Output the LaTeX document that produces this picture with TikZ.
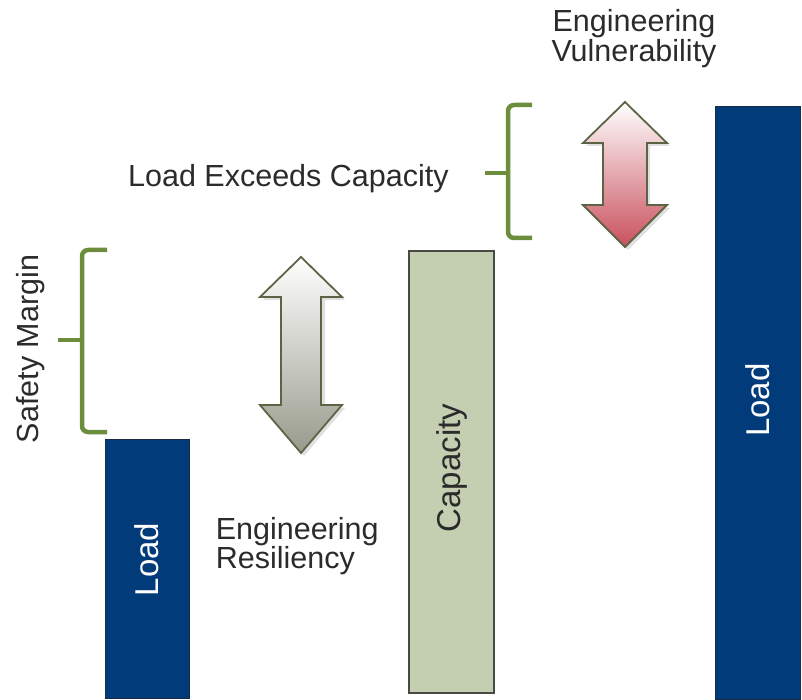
\documentclass[tikz,border=0pt]{standalone}
\usepackage{fontspec}
\setmainfont{Liberation Sans}
\definecolor{navy}{HTML}{023B7A}
\definecolor{navyedge}{HTML}{1B2B45}
\definecolor{sage}{HTML}{C4CFB1}
\definecolor{sageedge}{HTML}{4A4A44}
\definecolor{bracegreen}{HTML}{6C8E3C}
\definecolor{labelgray}{HTML}{2B2B2B}
\definecolor{arrowedge}{HTML}{5D6445}
\definecolor{greylow}{HTML}{999A8C}
\definecolor{redlow}{HTML}{C9505D}
\begin{document}
\begin{tikzpicture}[x=1pt,y=-1pt,
  loadbar/.style={fill=navy,draw=navyedge,line width=1,inner sep=0},
  capbar/.style={fill=sage,draw=sageedge,line width=1.2,inner sep=0},
  barlabel/.style={rotate=90,font=\fontsize{33}{33}\selectfont,inner sep=0},
  brace/.style={draw=bracegreen,line width=4.5,rounded corners=6},
  label/.style={font=\fontsize{30.5}{29.5}\selectfont,text=labelgray,inner sep=0},
  arrowshadow/.style={fill=black,opacity=0.12},
  dblarrow/.style={draw=arrowedge,line width=1.8,line join=miter}
]
\useasboundingbox (0,0) rectangle (802,700);

% bars
\node[loadbar,minimum width=84,minimum height=259] (loadA) at (147,568.5) {};
\node[capbar,minimum width=85,minimum height=442] (capacity) at (451.5,472) {};
\node[loadbar,minimum width=85,minimum height=592] (loadB) at (757.5,403) {};
\node[barlabel,text=white] (loadAtext) at ([yshift=9pt]loadA.center) {Load};
\node[barlabel,text=labelgray] (captext) at ([yshift=4pt]capacity.center) {Capacity};
\node[barlabel,text=white] (loadBtext) at ([yshift=3pt]loadB.center) {Load};

% safety margin brace
\draw[brace] (107,250) -- (82,250) -- (82,432) -- (107,432);
\draw[brace] (58,340) -- (82,340);
\node[label,rotate=90] (safety) at (31,349) {Safety Margin};

% load exceeds capacity brace
\draw[brace] (532,105) -- (508,105) -- (508,238) -- (532,238);
\draw[brace] (485,173) -- (508,173);
\node[label,anchor=base west] (exceeds) at (128,187) {Load Exceeds Capacity};

% resiliency arrow
\fill[arrowshadow] (304,260) -- (345,300) -- (325,300) -- (325,408) -- (345,408)
  -- (304,456) -- (263,408) -- (285,408) -- (285,300) -- (263,300) -- cycle;
\shade[top color=white,middle color=gray!22,bottom color=greylow]
  (301,257) -- (342,297) -- (321,297) -- (321,405) -- (342,405)
  -- (301,453) -- (260,405) -- (281,405) -- (281,297) -- (260,297) -- cycle;
\draw[dblarrow]
  (301,257) -- (342,297) -- (321,297) -- (321,405) -- (342,405)
  -- (301,453) -- (260,405) -- (281,405) -- (281,297) -- (260,297) -- cycle;

% vulnerability arrow
\fill[arrowshadow] (628,105) -- (670,146) -- (650,146) -- (650,208) -- (670,208)
  -- (628,250) -- (586,208) -- (606,208) -- (606,146) -- (586,146) -- cycle;
\shade[top color=white,middle color=red!20!white,bottom color=redlow]
  (625,102) -- (667,143) -- (647,143) -- (647,205) -- (667,205)
  -- (625,247) -- (583,205) -- (603,205) -- (603,143) -- (583,143) -- cycle;
\draw[dblarrow]
  (625,102) -- (667,143) -- (647,143) -- (647,205) -- (667,205)
  -- (625,247) -- (583,205) -- (603,205) -- (603,143) -- (583,143) -- cycle;

% captions
\node[label,align=center,anchor=north] (vuln) at (634,9.5) {Engineering\\Vulnerability};
\node[label,align=left,anchor=north west] (resil) at (215.6,517) {Engineering\\Resiliency};
\end{tikzpicture}
\end{document}
